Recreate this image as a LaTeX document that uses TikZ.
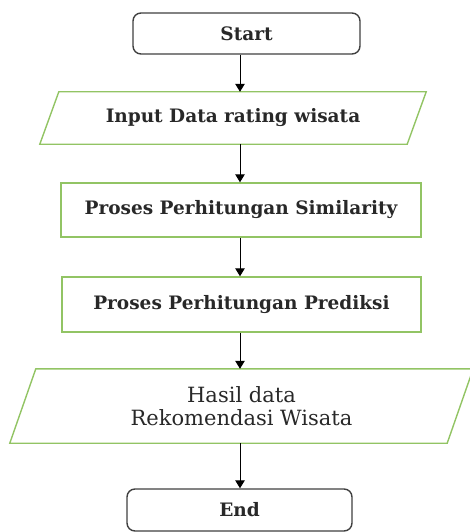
\documentclass[tikz,border=0pt]{standalone}
\usepackage{fontspec}
\setmainfont{DejaVu Serif}
\usetikzlibrary{arrows.meta,calc}
\definecolor{boxgreen}{RGB}{146,196,100}
\definecolor{txtgray}{RGB}{40,40,40}
\tikzset{
  x=1pt,y=-1pt,
  terminal/.style={draw=black!75,line width=1.4pt,rounded corners=8pt,fill=white,
    inner sep=0pt,text=txtgray,font=\fontsize{18.5}{22}\selectfont\bfseries},
  procbox/.style={draw=boxgreen,line width=1.4pt,inner sep=0pt,text=txtgray,
    font=\fontsize{18.5}{22}\selectfont\bfseries},
  iobox/.style={inner sep=0pt,text=txtgray,align=center,
    font=\fontsize{18.5}{22}\selectfont\bfseries},
  ioline/.style={draw=boxgreen,line width=1.4pt},
  arr/.style={draw=black,line width=1pt,-{Triangle[length=8pt,width=9.5pt]}}
}
\begin{document}
\begin{tikzpicture}
\useasboundingbox (0,0) rectangle (470,532);
\coordinate (axis) at (240,0);

\node[terminal,minimum width=227pt,minimum height=41pt] (start) at (246.5,33.5) {Start};

\node[iobox,minimum width=367pt,minimum height=52pt] (inp) at (233,118) {Input Data rating wisata};
\draw[ioline] ($(inp.north west)+(9.5,0)$) -- ($(inp.north east)+(9.5,0)$)
  -- ($(inp.south east)-(9.5,0)$) -- ($(inp.south west)-(9.5,0)$) -- cycle;

\node[procbox,minimum width=360pt,minimum height=54pt] (sim) at (241,210) {Proses Perhitungan Similarity};

\node[procbox,minimum width=359pt,minimum height=55pt] (pred) at (241.5,304.5) {Proses Perhitungan Prediksi};

\node[iobox,minimum width=437pt,minimum height=74pt,font=\fontsize{21}{23.5}\selectfont] (hasil) at (241.5,406) {Hasil data\\Rekomendasi Wisata};
\draw[ioline] ($(hasil.north west)+(13,0)$) -- ($(hasil.north east)+(13,0)$)
  -- ($(hasil.south east)-(13,0)$) -- ($(hasil.south west)-(13,0)$) -- cycle;

\node[terminal,minimum width=225pt,minimum height=42pt] (end) at (239.5,510) {End};

\draw[arr] (start.south -| axis) -- (inp.north -| axis);
\draw[arr] (inp.south -| axis) -- (sim.north -| axis);
\draw[arr] (sim.south -| axis) -- (pred.north -| axis);
\draw[arr] (pred.south -| axis) -- (hasil.north -| axis);
\draw[arr] (hasil.south -| axis) -- (end.north -| axis);
\end{tikzpicture}
\end{document}
